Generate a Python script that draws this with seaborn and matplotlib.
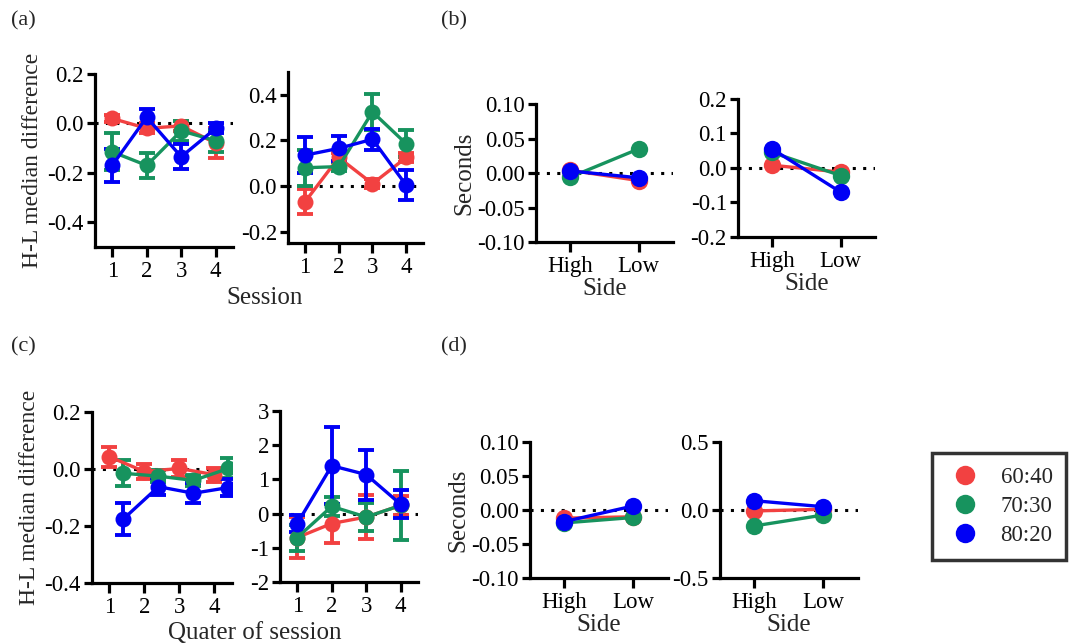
import numpy as np
import pandas as pd
import seaborn as sns
import matplotlib.pyplot as plt
from matplotlib.lines import Line2D

# ratio groups and their colours
groups = ["60:40", "70:30", "80:20"]
colors = ["#F24141", "#17935E", "#0000F5"]

session = [1, 2, 3, 4]
side = ["High", "Low"]

# (a) H-L median difference per session, mean and sem
a1_mean = {"60:40": [0.02, -0.02, -0.01, -0.08],
           "70:30": [-0.115, -0.17, -0.03, -0.07],
           "80:20": [-0.17, 0.025, -0.135, -0.02]}
a1_sem = {"60:40": [0.015, 0.02, 0.02, 0.06],
          "70:30": [0.075, 0.05, 0.04, 0.045],
          "80:20": [0.067, 0.035, 0.05, 0.02]}
a2_mean = {"60:40": [-0.07, 0.125, 0.01, 0.125],
           "70:30": [0.08, 0.085, 0.325, 0.185],
           "80:20": [0.135, 0.165, 0.205, 0.003]}
a2_sem = {"60:40": [0.055, 0.02, 0.02, 0.02],
          "70:30": [0.08, 0.02, 0.08, 0.06],
          "80:20": [0.078, 0.055, 0.047, 0.065]}

# (b) seconds by side
b1 = {"60:40": [0.004, -0.011],
      "70:30": [-0.006, 0.035],
      "80:20": [0.003, -0.007]}
b2 = {"60:40": [0.008, -0.012],
      "70:30": [0.045, -0.022],
      "80:20": [0.055, -0.07]}

# (c) H-L median difference per quarter of session
c1_mean = {"60:40": [0.043, -0.009, 0.002, -0.02],
           "70:30": [-0.015, -0.025, -0.04, 0.002],
           "80:20": [-0.175, -0.062, -0.085, -0.065]}
c1_sem = {"60:40": [0.035, 0.025, 0.03, 0.025],
          "70:30": [0.045, 0.02, 0.02, 0.035],
          "80:20": [0.055, 0.03, 0.035, 0.03]}
c2_mean = {"60:40": [-0.7, -0.29, -0.1, 0.24],
           "70:30": [-0.7, 0.21, -0.1, 0.24],
           "80:20": [-0.29, 1.4, 1.14, 0.27]}
c2_sem = {"60:40": [0.6, 0.58, 0.63, 0.28],
          "70:30": [0.38, 0.27, 0.4, 1.0],
          "80:20": [0.25, 1.13, 0.73, 0.41]}

# (d) seconds by side
d1 = {"60:40": [-0.012, -0.01],
      "70:30": [-0.019, -0.011],
      "80:20": [-0.017, 0.006]}
d2 = {"60:40": [-0.007, 0.005],
      "70:30": [-0.117, -0.037],
      "80:20": [0.068, 0.024]}

sns.set_style("ticks")
plt.rcParams["font.family"] = ["Liberation Serif", "DejaVu Serif"]
plt.rcParams["font.size"] = 16
plt.rcParams["axes.linewidth"] = 2.3
plt.rcParams["xtick.major.width"] = 2.3
plt.rcParams["ytick.major.width"] = 2.3
plt.rcParams["xtick.major.size"] = 7
plt.rcParams["ytick.major.size"] = 6
plt.rcParams["xtick.labelsize"] = 16.5
plt.rcParams["ytick.labelsize"] = 16.5
plt.rcParams["xtick.color"] = "black"
plt.rcParams["ytick.color"] = "black"
plt.rcParams["axes.edgecolor"] = "black"

fig = plt.figure(figsize=(10.72, 6.44), dpi=100)


def style_axis(ax, ylim, yticks, yfmt):
    sns.despine(ax=ax)
    ax.axhline(0, color="black", lw=2.2, ls=(0, (1, 2.4)), zorder=0)
    ax.set_ylim(*ylim)
    ax.set_yticks(yticks)
    ax.set_yticklabels([yfmt.format(v) for v in yticks])
    ax.tick_params(axis="y", pad=2)
    ax.tick_params(axis="x", pad=3)


def session_panel(rect, means, sems, ylim, yticks, yfmt, dodge=None):
    ax = fig.add_axes(rect)
    for g, c in zip(groups, colors):
        off = dodge[g] if dodge else 0.0
        x = np.array(session) + off
        ax.errorbar(x, means[g], yerr=sems[g], fmt="none", ecolor=c,
                    elinewidth=2.8, capsize=6, capthick=2.8, zorder=2)
        sns.lineplot(x=x, y=means[g], ax=ax, color=c, marker="o",
                     markersize=11.5, markeredgewidth=0, linewidth=2.4,
                     zorder=3)
    ax.set_xlim(0.5, 4.5)
    ax.set_xticks(session)
    style_axis(ax, ylim, yticks, yfmt)
    return ax


def side_panel(rect, vals, ylim, yticks, yfmt):
    ax = fig.add_axes(rect)
    rows = []
    for g in groups:
        for s, v in zip(side, vals[g]):
            rows.append({"side": s, "value": v, "ratio": g})
    df = pd.DataFrame(rows)
    sns.lineplot(data=df, x="side", y="value", hue="ratio", palette=colors,
                 marker="o", markersize=12.5, markeredgewidth=0, linewidth=2.4,
                 ax=ax, legend=False, sort=False)
    ax.set_xlim(-0.5, 1.5)
    ax.set_xlabel("Side", fontsize=18, labelpad=1)
    ax.set_ylabel("")
    style_axis(ax, ylim, yticks, yfmt)
    return ax


# (a)
ax = session_panel([0.0886, 0.6165, 0.1287, 0.2686], a1_mean, a1_sem,
                   (-0.5, 0.2), [-0.4, -0.2, 0.0, 0.2], "{:.1f}")
ax.set_ylabel("H-L median difference", fontsize=17, labelpad=3)
session_panel([0.2687, 0.6227, 0.126, 0.2655], a2_mean, a2_sem,
              (-0.25, 0.5), [-0.2, 0.0, 0.2, 0.4], "{:.1f}")
fig.text(0.247, 0.537, "Session", ha="center", va="center", fontsize=18)

# (b)
ax = side_panel([0.500, 0.6242, 0.1278, 0.2143], b1,
                (-0.1, 0.1), [-0.1, -0.05, 0.0, 0.05, 0.1], "{:.2f}")
ax.set_ylabel("Seconds", fontsize=18, labelpad=1)
side_panel([0.6884, 0.632, 0.1278, 0.2143], b2,
           (-0.2, 0.2), [-0.2, -0.1, 0.0, 0.1, 0.2], "{:.1f}")

# (c)
ax = session_panel([0.0858, 0.0947, 0.1306, 0.2655], c1_mean, c1_sem,
                   (-0.4, 0.2), [-0.4, -0.2, 0.0, 0.2], "{:.1f}",
                   dodge={"60:40": 0.0, "70:30": 0.4, "80:20": 0.4})
ax.set_ylabel("H-L median difference", fontsize=17, labelpad=3)
session_panel([0.2612, 0.0963, 0.1287, 0.2655], c2_mean, c2_sem,
              (-2, 3), [-2, -1, 0, 1, 2, 3], "{:.0f}")
fig.text(0.238, 0.017, "Quater of session", ha="center", va="center",
         fontsize=18)

# (d)
ax = side_panel([0.4944, 0.1025, 0.1287, 0.2112], d1,
                (-0.1, 0.1), [-0.1, -0.05, 0.0, 0.05, 0.1], "{:.2f}")
ax.set_ylabel("Seconds", fontsize=18, labelpad=1)
side_panel([0.6716, 0.1025, 0.1287, 0.2112], d2,
           (-0.5, 0.5), [-0.5, 0.0, 0.5], "{:.1f}")

# panel letters
for txt, x, y in [("(a)", 0.010, 0.968), ("(b)", 0.411, 0.968),
                  ("(c)", 0.010, 0.462), ("(d)", 0.411, 0.462)]:
    fig.text(x, y, txt, ha="left", va="center", fontsize=16)

# legend
handles = [Line2D([], [], ls="none", marker="o", markersize=14,
                  markeredgewidth=0, color=c) for c in colors]
leg = fig.legend(handles, groups, loc="center", bbox_to_anchor=(0.932, 0.213),
                 frameon=True, fancybox=False, edgecolor="black",
                 fontsize=16.5, handlelength=1.7, handletextpad=0.7,
                 labelspacing=0.35, borderpad=0.6)
leg.get_frame().set_linewidth(2.5)

fig.savefig("out.png", dpi=100)
